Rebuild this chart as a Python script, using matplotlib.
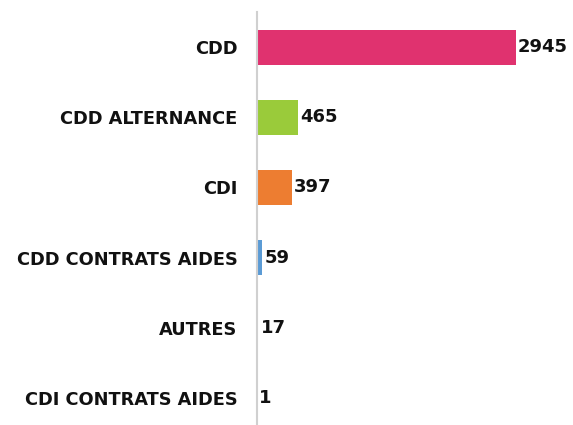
import matplotlib.pyplot as plt

categories = ['CDD', 'CDD ALTERNANCE', 'CDI', 'CDD CONTRATS AIDES', 'AUTRES', 'CDI CONTRATS AIDES']
values = [2945, 465, 397, 59, 17, 1]
colors = ['#E0326F', '#9ACB3A', '#ED7D31', '#5B9BD5', '#A5A5A5', '#FFC000']

fig = plt.figure(figsize=(5.73, 4.25), dpi=100)
ax = fig.add_axes([0.4485, 0, 0.5215, 0.9718])

ypos = list(range(len(categories)))
ax.barh(ypos, values, height=0.5, color=colors)
for y, v in zip(ypos, values):
    ax.text(v + 25, y, str(v), va='center', ha='left', fontsize=13, fontweight='bold', color='#111111')

ax.set_xlim(0, 3400)
ax.set_ylim(5.385, -0.5)
ax.set_yticks(ypos)
ax.set_yticklabels(categories, fontsize=12.8, fontweight='bold', color='#111111')
ax.tick_params(axis='y', length=0, pad=14)
ax.set_xticks([])
for s in ['top', 'right', 'bottom']:
    ax.spines[s].set_visible(False)
ax.spines['left'].set_color('#D0D0D0')
ax.spines['left'].set_linewidth(1.5)

fig.savefig('out.png', dpi=100)
